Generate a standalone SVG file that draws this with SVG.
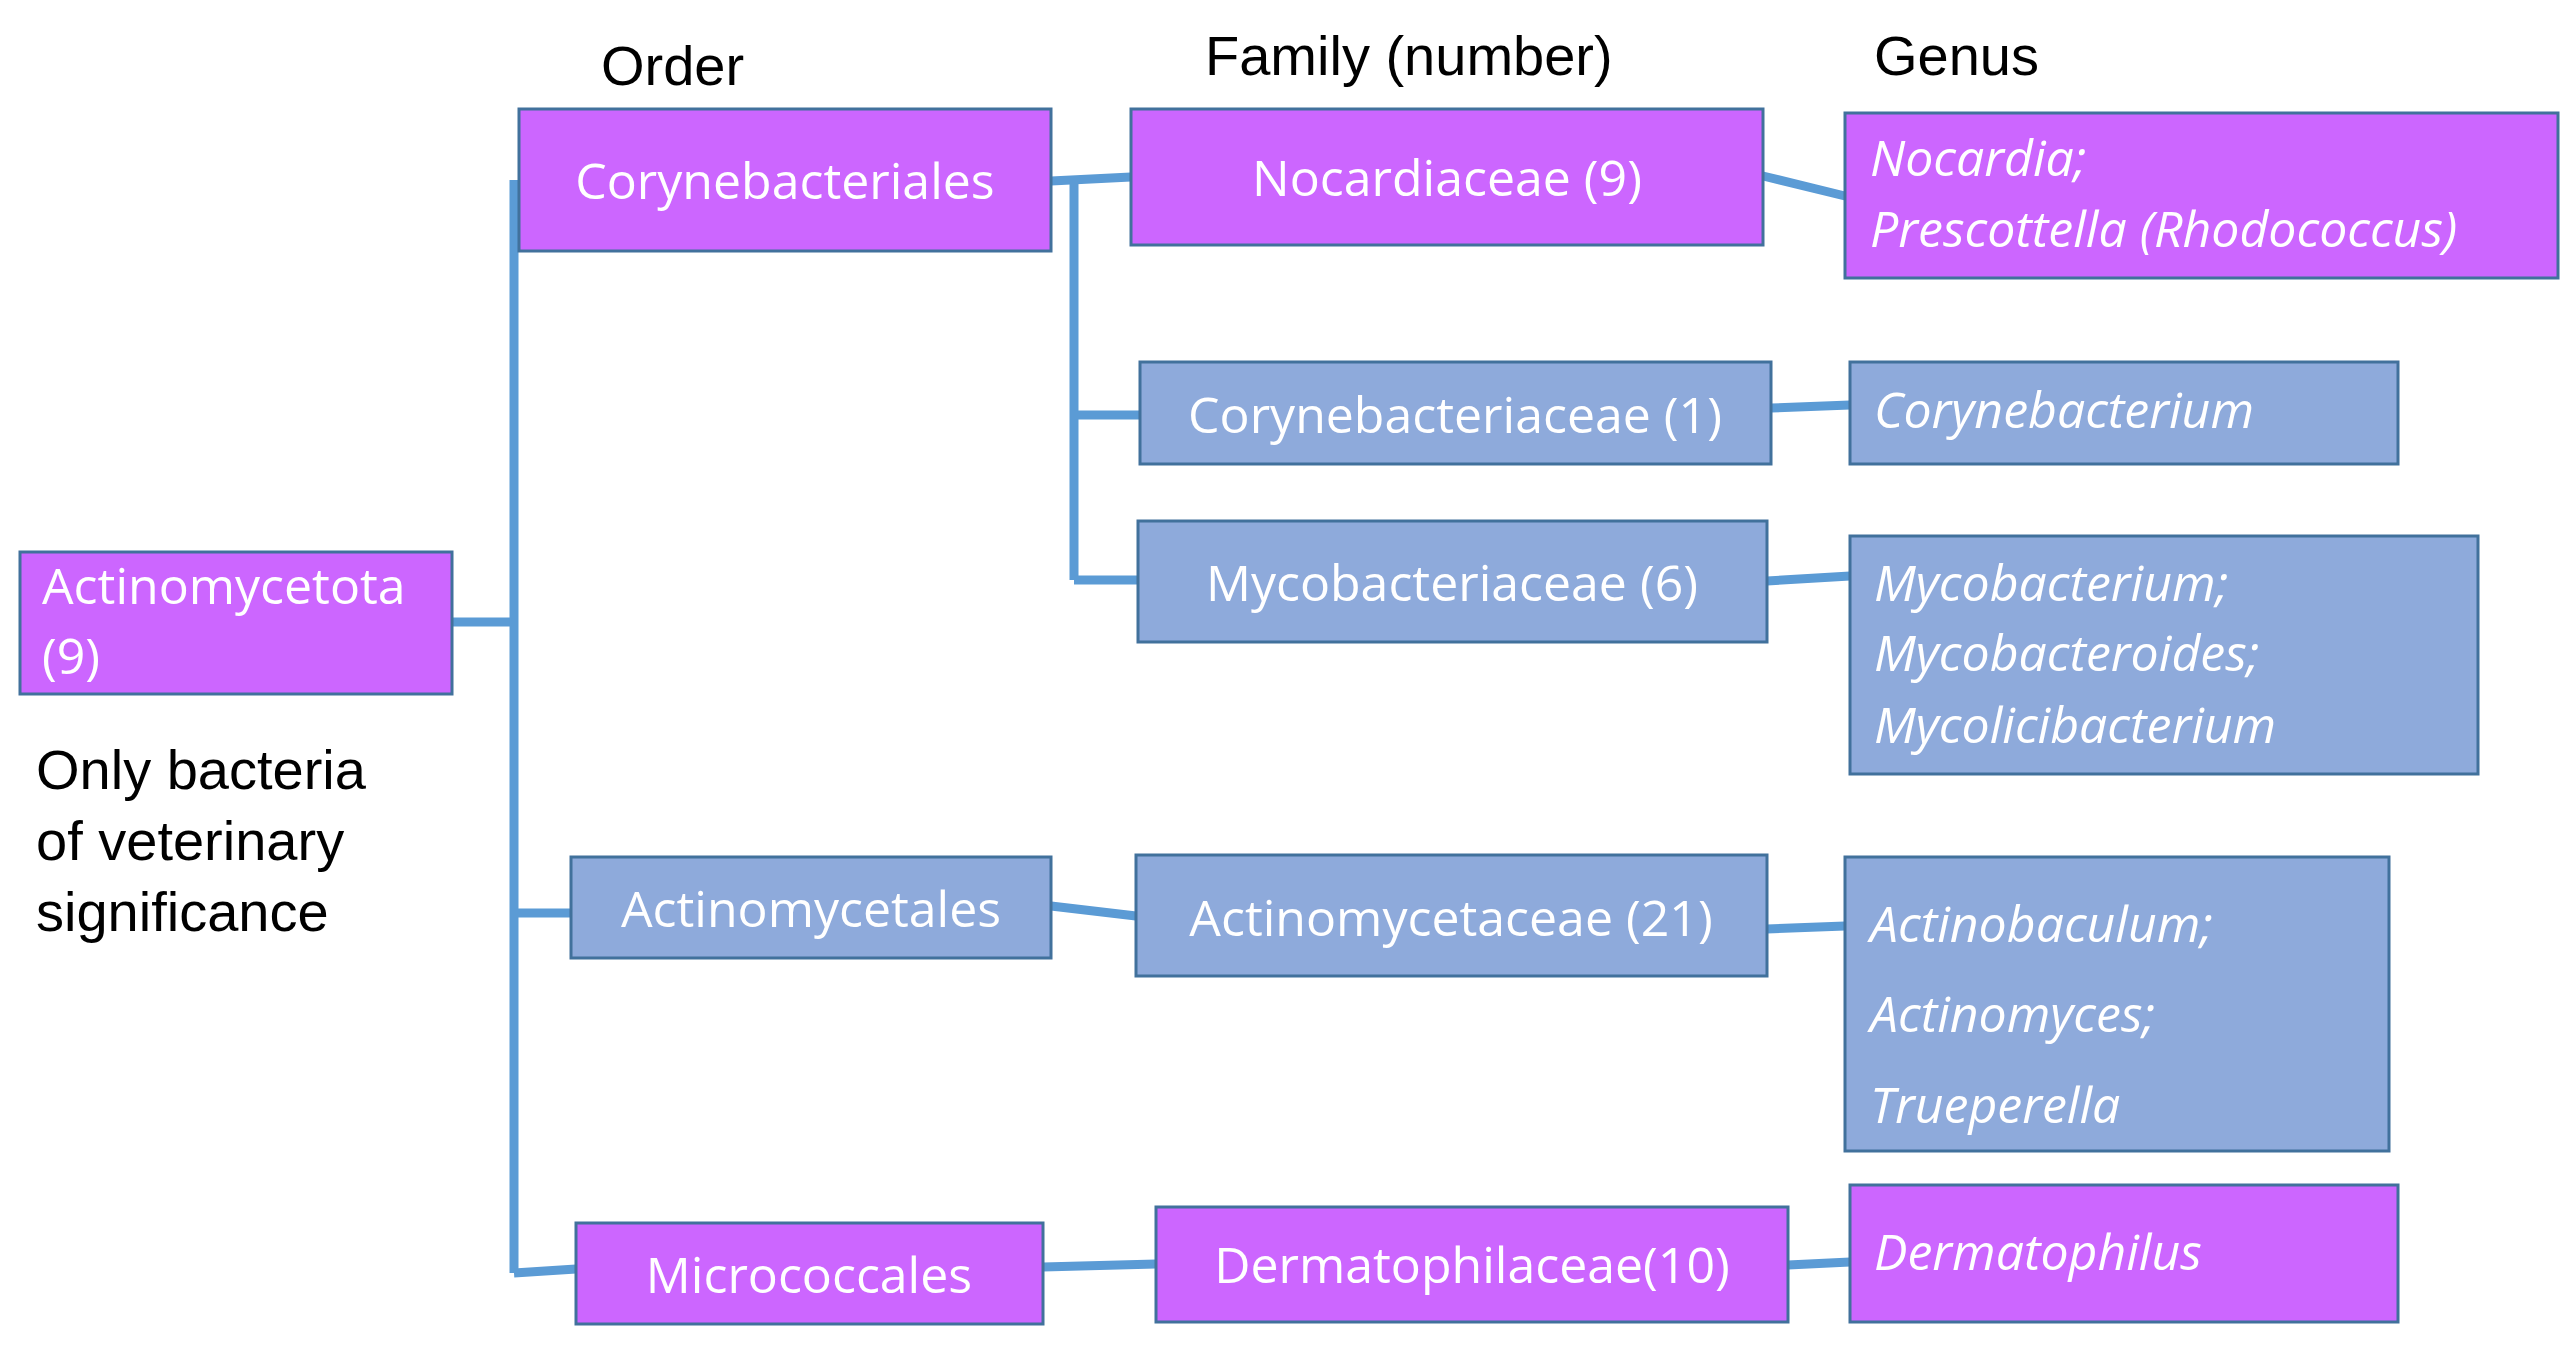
<svg xmlns="http://www.w3.org/2000/svg" width="2560" height="1345" viewBox="0 0 2560 1345">
<style>
.p{fill:#CC66FF;stroke:#41719C;stroke-width:3}
.b{fill:#8EAADB;stroke:#41719C;stroke-width:3}
.t{font-family:"Open Sans","Noto Sans",sans-serif;font-size:50px;fill:#fff}
.c{text-anchor:middle}
.i{font-style:italic}
.h{font-family:"Liberation Sans",Arial,sans-serif;font-size:56px;fill:#000}
#conn line{stroke:#5B9BD5;stroke-width:9;fill:none}
</style>
<rect width="2560" height="1345" fill="#fff"/>
<g id="headers">
<text class="h" x="601" y="85">Order</text>
<text class="h" x="1205" y="75">Family (number)</text>
<text class="h" x="1874" y="75">Genus</text>
<text class="h" x="36" y="789">Only bacteria</text>
<text class="h" x="36" y="860">of veterinary</text>
<text class="h" x="36" y="931">significance</text>
</g>
<g id="conn">
<line x1="452" y1="622" x2="514" y2="622"/>
<line x1="514" y1="180" x2="514" y2="1273"/>
<line x1="514" y1="913" x2="578" y2="913"/>
<line x1="514" y1="1273" x2="576" y2="1269"/>
<line x1="1051" y1="181" x2="1131" y2="177"/>
<line x1="1074" y1="181" x2="1074" y2="580"/>
<line x1="1074" y1="415" x2="1140" y2="415"/>
<line x1="1074" y1="580" x2="1138" y2="580"/>
<line x1="1763" y1="176" x2="1845" y2="196"/>
<line x1="1771" y1="408" x2="1850" y2="405"/>
<line x1="1767" y1="581" x2="1850" y2="576"/>
<line x1="1051" y1="906" x2="1136" y2="916"/>
<line x1="1767" y1="929" x2="1845" y2="926"/>
<line x1="1043" y1="1267" x2="1156" y2="1264"/>
<line x1="1788" y1="1265" x2="1850" y2="1262"/>
</g>
<g id="actinomycetota"><rect class="p" x="20" y="552" width="432" height="142"/><text class="t" x="42" y="604">Actinomycetota</text><text class="t" x="42" y="674">(9)</text></g>
<g id="corynebacteriales"><rect class="p" x="519" y="109" width="532" height="142"/><text class="t c" x="785" y="199">Corynebacteriales</text></g>
<g id="nocardiaceae"><rect class="p" x="1131" y="109" width="632" height="136"/><text class="t c" x="1447" y="196">Nocardiaceae (9)</text></g>
<g id="nocardia"><rect class="p" x="1845" y="113" width="713" height="165"/><text class="t i" x="1870" y="176">Nocardia;</text><text class="t i" x="1870" y="247">Prescottella (Rhodococcus)</text></g>
<g id="corynebacteriaceae"><rect class="b" x="1140" y="362" width="631" height="102"/><text class="t c" x="1455" y="433">Corynebacteriaceae (1)</text></g>
<g id="corynebacterium"><rect class="b" x="1850" y="362" width="548" height="102"/><text class="t i" x="1874" y="428">Corynebacterium</text></g>
<g id="mycobacteriaceae"><rect class="b" x="1138" y="521" width="629" height="121"/><text class="t c" x="1452" y="601">Mycobacteriaceae (6)</text></g>
<g id="mycobacterium"><rect class="b" x="1850" y="536" width="628" height="238"/><text class="t i" x="1874" y="601">Mycobacterium;</text><text class="t i" x="1874" y="671">Mycobacteroides;</text><text class="t i" x="1874" y="743">Mycolicibacterium</text></g>
<g id="actinomycetales"><rect class="b" x="571" y="857" width="480" height="101"/><text class="t c" x="811" y="927">Actinomycetales</text></g>
<g id="actinomycetaceae"><rect class="b" x="1136" y="855" width="631" height="121"/><text class="t c" x="1451" y="936">Actinomycetaceae (21)</text></g>
<g id="actinobaculum"><rect class="b" x="1845" y="857" width="544" height="294"/><text class="t i" x="1870" y="942">Actinobaculum;</text><text class="t i" x="1870" y="1032">Actinomyces;</text><text class="t i" x="1870" y="1123">Trueperella</text></g>
<g id="micrococcales"><rect class="p" x="576" y="1223" width="467" height="101"/><text class="t c" x="809" y="1293">Micrococcales</text></g>
<g id="dermatophilaceae"><rect class="p" x="1156" y="1207" width="632" height="115"/><text class="t c" x="1472" y="1283">Dermatophilaceae(10)</text></g>
<g id="dermatophilus"><rect class="p" x="1850" y="1185" width="548" height="137"/><text class="t i" x="1874" y="1270">Dermatophilus</text></g>
</svg>
